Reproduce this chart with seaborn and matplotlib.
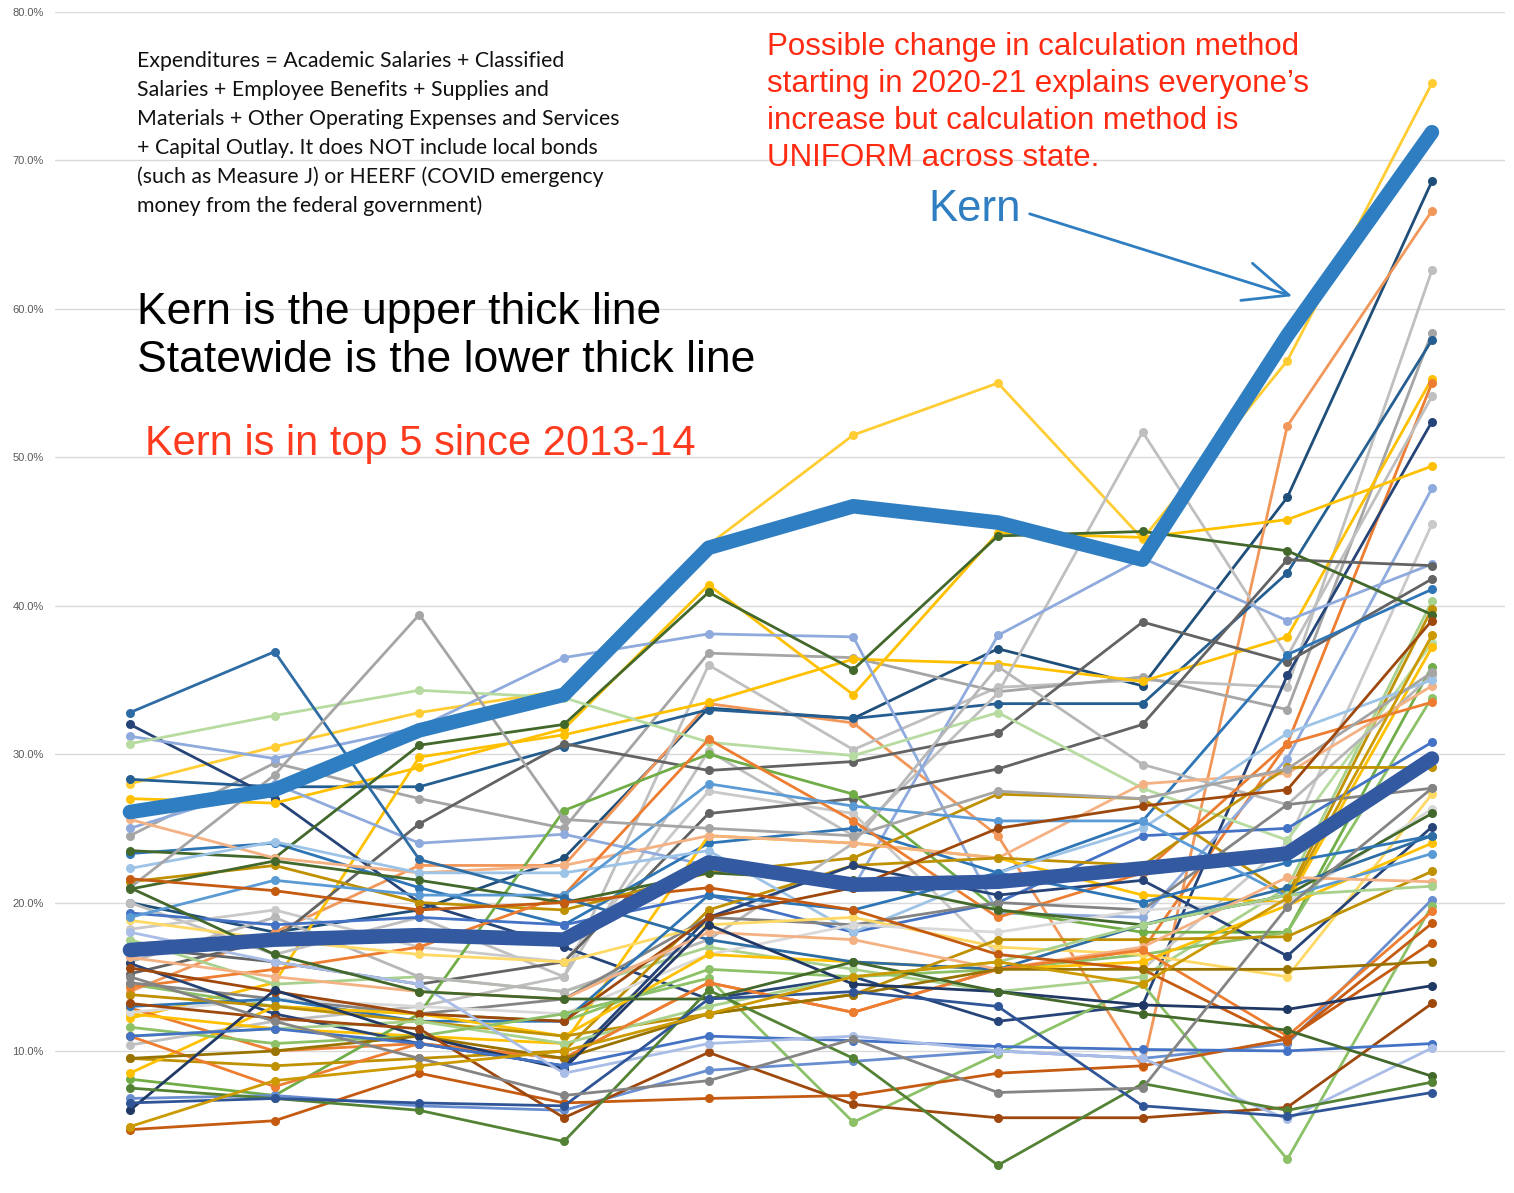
import matplotlib
matplotlib.use("Agg")
import matplotlib.pyplot as plt
import seaborn as sns
import pandas as pd

years = ["2011-12", "2012-13", "2013-14", "2014-15", "2015-16",
         "2016-17", "2017-18", "2018-19", "2019-20", "2020-21"]

kern = [26.1, 27.6, 31.6, 34.0, 43.9, 46.7, 45.6, 43.1, 58.2, 71.9]
statewide = [16.8, 17.5, 17.8, 17.5, 22.7, 21.2, 21.4, 22.3, 23.3, 29.7]

# other districts, split in three bands by where they end
upper_group = [
    [28.0, 30.5, 32.8, 34.3, 44.1, 51.5, 55.0, 44.5, 56.5, 75.2],
    [20.0, 18.0, 19.5, 23.0, 33.1, 32.4, 37.1, 34.6, 47.3, 68.6],
    [14.0, 18.0, 22.5, 22.5, 33.4, 32.1, 24.5, 8.9, 52.1, 66.6],
    [10.4, 12.0, 13.0, 15.0, 36.0, 30.3, 34.5, 35.0, 34.5, 62.6],
    [24.5, 29.4, 27.0, 25.0, 36.8, 36.5, 34.2, 35.2, 33.0, 58.4],
    [28.3, 27.8, 27.8, 30.5, 33.0, 32.4, 33.4, 33.4, 42.2, 57.9],
    [12.2, 14.6, 29.8, 31.3, 33.5, 36.4, 36.1, 34.9, 37.9, 55.3],
    [12.9, 10.0, 10.5, 9.5, 14.6, 12.6, 15.5, 16.8, 30.7, 55.0],
    [20.0, 16.5, 19.0, 15.0, 30.2, 24.5, 34.1, 51.7, 36.6, 54.1],
    [32.0, 27.0, 20.0, 17.0, 13.5, 15.0, 12.0, 13.1, 35.3, 52.4],
    [27.0, 26.7, 29.1, 31.7, 41.4, 34.0, 44.9, 44.6, 45.8, 49.4],
    [31.2, 29.7, 31.8, 36.5, 38.1, 37.9, 19.3, 19.0, 29.7, 47.9],
    [18.2, 19.5, 17.0, 16.0, 27.5, 26.0, 16.5, 15.5, 24.0, 45.5],
    [25.0, 28.0, 24.0, 24.6, 22.5, 21.0, 38.0, 43.2, 39.0, 42.8],
    [17.0, 16.0, 14.5, 16.0, 26.0, 27.0, 29.0, 32.0, 43.1, 42.7],
    [15.2, 17.5, 25.3, 30.7, 28.9, 29.5, 31.4, 38.9, 36.2, 41.8],
    [23.3, 24.0, 21.0, 18.5, 24.0, 25.0, 22.0, 25.5, 36.7, 41.1],
    [17.5, 14.5, 15.0, 14.0, 17.0, 15.5, 14.0, 15.0, 21.0, 40.3],
    [21.4, 22.5, 20.0, 19.5, 22.0, 23.0, 27.3, 27.0, 20.5, 39.8],
    [23.5, 23.0, 30.6, 32.0, 40.9, 35.7, 44.7, 45.0, 43.7, 39.4],
]
middle_group = [
    [30.7, 32.6, 34.3, 33.8, 30.8, 29.9, 32.8, 27.7, 24.2, 37.5],
    [12.5, 11.5, 11.0, 10.5, 24.5, 24.0, 23.0, 20.5, 20.0, 37.2],
    [8.1, 7.0, 12.5, 26.2, 30.0, 27.3, 19.5, 18.0, 18.0, 35.9],
    [16.0, 19.0, 15.0, 14.0, 17.5, 24.0, 35.9, 29.3, 26.6, 35.3],
    [25.6, 23.0, 22.0, 22.5, 24.5, 24.0, 23.0, 28.0, 28.7, 34.6],
    [14.5, 13.0, 12.5, 12.0, 15.5, 15.0, 15.5, 16.5, 18.0, 33.8],
    [14.3, 15.5, 17.0, 20.5, 31.0, 25.5, 19.0, 22.0, 30.7, 33.5],
    [19.3, 18.5, 19.0, 18.5, 20.5, 18.0, 20.0, 24.5, 25.0, 30.8],
    [9.5, 9.0, 9.5, 10.0, 19.5, 22.5, 23.0, 22.5, 29.1, 29.1],
    [22.3, 24.1, 22.0, 22.0, 23.5, 18.0, 22.0, 25.0, 31.4, 35.0],
    [14.6, 13.5, 12.5, 13.5, 19.0, 18.5, 20.0, 19.5, 26.6, 27.7],
    [18.8, 17.5, 16.5, 16.0, 18.5, 19.0, 17.0, 16.5, 15.0, 27.3],
    [12.6, 13.5, 13.0, 12.5, 16.5, 18.5, 18.0, 19.5, 20.0, 26.3],
    [20.9, 22.8, 21.5, 20.0, 22.0, 21.5, 19.5, 18.5, 20.5, 26.0],
    [15.9, 12.5, 10.5, 9.0, 19.0, 22.5, 20.5, 21.5, 16.4, 25.1],
    [13.0, 13.5, 12.0, 12.0, 20.5, 19.5, 22.0, 20.0, 22.7, 24.5],
    [8.5, 13.0, 12.5, 11.0, 16.5, 16.0, 15.5, 16.0, 19.8, 24.0],
    [19.0, 21.5, 20.5, 20.5, 28.0, 26.5, 25.5, 25.5, 20.4, 23.3],
    [32.8, 36.9, 22.9, 20.3, 17.5, 16.0, 15.5, 18.5, 21.0, 24.5],
    [21.0, 28.6, 39.4, 25.6, 25.0, 24.5, 27.5, 27.0, 29.0, 35.5],
    [15.6, 14.0, 12.5, 12.0, 19.0, 21.0, 25.0, 26.5, 27.6, 39.0],
]
lower_group = [
    [13.8, 13.0, 12.0, 11.0, 12.5, 13.8, 17.5, 17.5, 17.7, 22.1],
    [16.3, 15.0, 14.0, 13.5, 18.0, 17.5, 15.5, 17.0, 21.7, 21.4],
    [11.0, 11.5, 12.0, 10.5, 13.0, 15.0, 16.0, 18.5, 20.5, 21.1],
    [6.8, 7.0, 6.3, 6.0, 8.7, 9.3, 10.0, 9.5, 10.5, 20.2],
    [11.6, 10.5, 11.0, 12.5, 14.9, 5.2, 9.8, 14.5, 2.7, 19.8],
    [11.0, 7.6, 10.5, 9.5, 14.6, 12.6, 15.5, 16.8, 11.0, 19.4],
    [21.6, 20.8, 19.5, 20.0, 21.0, 19.5, 16.5, 15.5, 10.7, 18.6],
    [4.7, 5.3, 8.5, 6.5, 6.8, 7.0, 8.5, 9.0, 10.8, 17.3],
    [9.5, 10.0, 11.0, 9.5, 12.5, 13.8, 15.5, 15.5, 15.5, 16.0],
    [6.0, 14.1, 11.0, 8.8, 18.5, 14.5, 14.0, 13.1, 12.8, 14.4],
    [13.2, 12.2, 11.5, 5.5, 9.9, 6.4, 5.5, 5.5, 6.2, 13.2],
    [11.0, 11.5, 10.5, 9.0, 11.0, 10.7, 10.3, 10.1, 10.0, 10.5],
    [18.0, 16.0, 14.5, 8.5, 10.5, 11.0, 10.0, 9.5, 5.4, 10.2],
    [21.0, 16.5, 14.0, 13.5, 13.5, 16.0, 14.0, 12.5, 11.4, 8.3],
    [7.5, 6.8, 6.0, 3.9, 14.1, 9.5, 2.3, 7.8, 6.0, 7.9],
    [6.5, 6.8, 6.5, 6.3, 13.5, 14.0, 13.0, 6.3, 5.6, 7.2],
    [15.0, 12.0, 9.5, 7.0, 8.0, 10.8, 7.2, 7.5, 19.7, 27.7],
    [4.9, 8.0, 9.0, 10.0, 12.5, 15.0, 16.0, 14.5, 20.3, 38.0],
]

upper_colors = ["#ffcd33", "#1f4e79", "#f1975a", "#bfbfbf", "#a5a5a5",
                "#255e91", "#ffc000", "#ed7d31", "#bfbfbf", "#264478",
                "#ffc000", "#8faadc", "#c9c9c9", "#8faadc", "#636363",
                "#636363", "#2e75b6", "#a9d18e", "#bf9000", "#43682b"]
middle_colors = ["#b7dba0", "#ffc000", "#70ad47", "#b7b7b7", "#f4b183",
                 "#8cc168", "#ed7d31", "#4472c4", "#bf9000", "#9dc3e6",
                 "#848484", "#ffd966", "#d9d9d9", "#43682b", "#264478",
                 "#2e75b6", "#ffc000", "#5b9bd5", "#2e6ca4", "#a5a5a5",
                 "#9e480e"]
lower_colors = ["#bf9000", "#f4b183", "#a9d18e", "#698ed0", "#8cc168",
                "#ed7d31", "#c55a11", "#c55a11", "#997300", "#203864",
                "#9e480e", "#4472c4", "#a9bde6", "#43682b", "#548235",
                "#2f5597", "#848484", "#cc9a00"]

series = upper_group + middle_group + lower_group
colors = upper_colors + middle_colors + lower_colors

rows = []
for i, vals in enumerate(series):
    for yr, v in zip(years, vals):
        rows.append({"year": yr, "pct": v, "district": f"d{i}"})
df = pd.DataFrame(rows)
palette = {f"d{i}": c for i, c in enumerate(colors)}

sns.set_style("white")
W, H = 1514, 1193
fig = plt.figure(figsize=(W / 100, H / 100), dpi=100)
ax = fig.add_axes([55 / W, 0, 1450 / W, 1 - 12 / H])

sns.lineplot(data=df, x="year", y="pct", hue="district", palette=palette,
             marker="o", markersize=6.5, markeredgewidth=0, linewidth=2.0,
             estimator=None, sort=False, legend=False, ax=ax)
sns.lineplot(x=years, y=statewide, color="#335aa1", linewidth=10.5,
             solid_capstyle="round", ax=ax)
sns.lineplot(x=years, y=kern, color="#2f7ec1", linewidth=10.5,
             solid_capstyle="round", ax=ax)

ax.set_xlim(-0.518, 9.505)
ax.set_ylim(0.43, 80)
ax.set_yticks(range(10, 81, 10))
ax.set_yticklabels([f"{t:.1f}%" for t in range(10, 81, 10)],
                   color="#595959", fontsize=8, family="Liberation Sans")
ax.tick_params(axis="y", length=0, pad=8)
ax.set_xticks([])
ax.set_xlabel("")
ax.set_ylabel("")
ax.grid(axis="y", color="#d9d9d9", linewidth=1)
ax.set_axisbelow(True)
for s in ax.spines.values():
    s.set_visible(False)


def ftext(x, y, s, **kw):
    fig.text(x / W, 1 - y / H, s, va="baseline", ha="left", **kw)


note = ["Expenditures = Academic Salaries + Classified",
        "Salaries + Employee Benefits + Supplies and",
        "Materials + Other Operating Expenses and Services",
        "+ Capital Outlay. It does NOT include local bonds",
        "(such as Measure J) or HEERF (COVID emergency",
        "money from the federal government)"]
for i, line in enumerate(note):
    ftext(137, 67 + 29 * i, line, fontsize=15.3, family="Lato", color="#111111")

ftext(137, 324, "Kern is the upper thick line", fontsize=32,
      family="Liberation Sans", color="black")
ftext(137, 372, "Statewide is the lower thick line", fontsize=32,
      family="Liberation Sans", color="black")
ftext(145, 455, "Kern is in top 5 since 2013-14", fontsize=30,
      family="Liberation Sans", color="#ff3b1f")

red_note = ["Possible change in calculation method",
            "starting in 2020-21 explains everyone\u2019s",
            "increase but calculation method is",
            "UNIFORM across state."]
for i, line in enumerate(red_note):
    ftext(767, 55 + 37 * i, line, fontsize=22.5, family="Liberation Sans",
          color="#ff2a12")

ftext(928, 221, "Kern", fontsize=31.5, family="Liberation Sans", color="#2f7ec1")
fig.add_artist(matplotlib.patches.FancyArrowPatch(
    (1027 / W, 1 - 213 / H), (1295 / W, 1 - 297 / H),
    transform=fig.transFigure, arrowstyle="->,head_length=1.6,head_width=0.7",
    mutation_scale=20, color="#2f7ec1", linewidth=2))

fig.savefig("out.png", dpi=100)
